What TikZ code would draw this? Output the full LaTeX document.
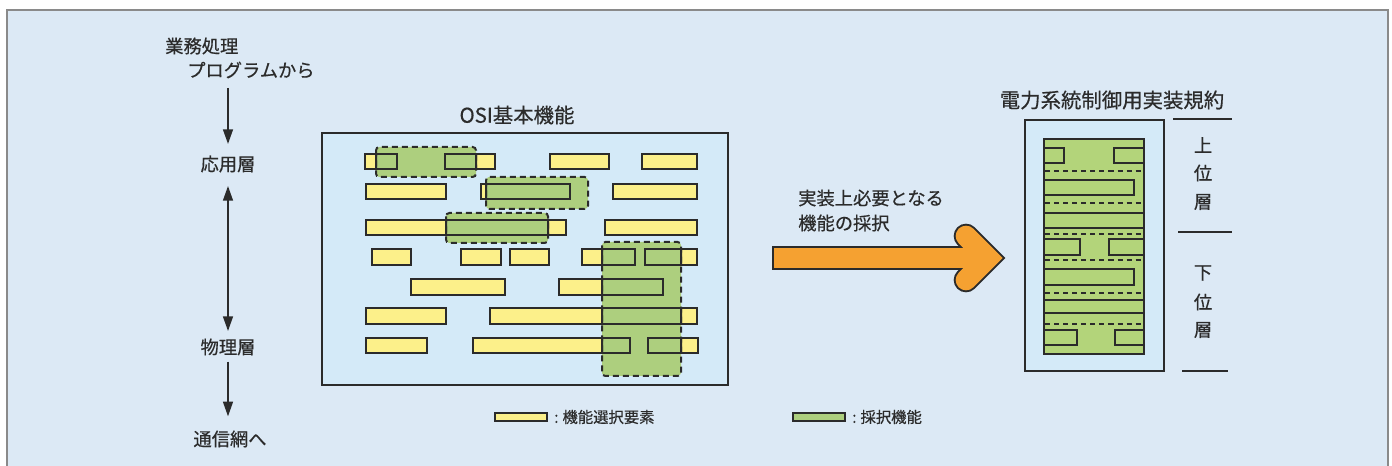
\documentclass[tikz,border=0pt]{standalone}
\usepackage{fontspec}
\newfontfamily\jp[FakeBold=0.5]{Noto Sans CJK JP}
\usetikzlibrary{arrows.meta}
\definecolor{bgblue}{HTML}{DCE9F5}
\definecolor{boxblue}{HTML}{D4EAF8}
\definecolor{yel}{HTML}{FCF08A}
\definecolor{grn}{HTML}{ADCF7E}
\definecolor{grnr}{HTML}{B3D47A}
\definecolor{org}{HTML}{F5A131}
\definecolor{ink}{HTML}{2B2B2B}
\definecolor{framegray}{HTML}{8A8A8A}
\tikzset{
  txt/.style={inner sep=0pt, text=ink, font=\jp\fontsize{13.7}{15}\selectfont},
  ttl/.style={inner sep=0pt, text=ink, font=\jp\fontsize{15.3}{17}\selectfont},
  lgd/.style={inner sep=0pt, text=ink, font=\jp\fontsize{11.5}{14}\selectfont},
  arr/.style={draw=ink, line width=1.1pt, -{Triangle[length=11pt,width=7.5pt]}},
  dblarr/.style={draw=ink, line width=1.1pt, {Triangle[length=11pt,width=7.5pt]}-{Triangle[length=11pt,width=7.5pt]}},
  rline/.style={draw=ink, line width=1.5pt},
  gfill/.style={fill=grn, rounded corners=2.5pt},
  gdash/.style={draw=ink, line width=1.5pt, dash pattern=on 4.5pt off 3pt, rounded corners=2.5pt},
  rdash/.style={draw=ink, line width=1.1pt, dash pattern=on 3.8pt off 3pt},
  outbox/.style={draw=ink, line width=1.5pt, fill=boxblue},
  sideline/.style={draw=ink, line width=1.2pt},
}
\begin{document}
\begin{tikzpicture}[x=0.75pt,y=-0.75pt]
\useasboundingbox (0,0) rectangle (1392,466);
\fill[white] (0,0) rectangle (1392,466);
\draw[framegray, line width=1.3pt, fill=bgblue] (7,480) -- (7,10) -- (1388,10) -- (1388,480);

% ---------- left column ----------
\node[txt, anchor=west] (prog1) at (165,46) {業務処理};
\node[txt, anchor=west] (prog2) at (187,70) {プログラムから};
\node[txt] (ouyou) at (228,164) {応用層};
\node[txt] (butsuri) at (228,347) {物理層};
\node[txt] (tsushin) at (230,439) {通信網へ};
\draw[arr] ([yshift=-7pt]prog2.south -| ouyou.north) -- ([yshift=8.5pt]ouyou.north);
\draw[dblarr] ([yshift=-10pt]ouyou.south) -- ([yshift=5.5pt]butsuri.north);
\draw[arr] ([yshift=-4.5pt]butsuri.south) -- ([yshift=10.5pt]tsushin.north -| butsuri.south);

% ---------- OSI box ----------
\node[ttl] (osititle) at (517,115) {OSI基本機能};
\draw[outbox] (322,133) rectangle (728,385);

\def\rects{365/154/397/169, 445/154/495/169, 550/154/609/169, 642/154/697/169,
  366/184/446/199, 481/184/570/199, 613/184/697/199,
  366/220/566/235, 605/220/697/235,
  372/249/411/265, 461/249/501/265, 510/249/549/265, 582/249/635/265, 645/249/697/265,
  411/279/505/295, 559/279/663/295,
  366/308/446/324, 490/308/697/324,
  366/338/427/353, 473/338/630/353, 648/338/698/353}
\def\gregs{376/147/476/177, 486/177/588/209, 446/213/548/243, 602/242/681/376}

\foreach \a/\b/\c/\d in \rects { \fill[yel] (\a,\b) rectangle (\c,\d); }
\foreach \a/\b/\c/\d in \gregs { \fill[gfill] (\a,\b) rectangle (\c,\d); }
\begin{scope}
  \clip \foreach \a/\b/\c/\d in \rects { (\a,\b) rectangle (\c,\d) };
  \foreach \a/\b/\c/\d in \gregs { \draw[rline, rounded corners=2.5pt] (\a,\b) rectangle (\c,\d); }
\end{scope}
\foreach \a/\b/\c/\d in \rects { \draw[rline] (\a,\b) rectangle (\c,\d); }
\foreach \a/\b/\c/\d in \gregs { \draw[gdash] (\a,\b) rectangle (\c,\d); }

% ---------- orange arrow ----------
\node[txt, anchor=west] (adopt1) at (798,198) {実装上必要となる};
\node[txt, anchor=west] (adopt2) at (798,223) {機能の採択};
\coordinate (ashaft) at (772,258);
\coordinate (ajoin) at (988,258);
\coordinate (atop) at (966,236);
\coordinate (abot) at (966,280);
\draw[ink, line width=18.5pt] (ashaft) -- (ajoin);
\draw[ink, line width=18.5pt, line cap=round, line join=miter] (atop) -- (ajoin) -- (abot);
\draw[org, line width=15.5pt] ([xshift=1.5pt]ashaft) -- (ajoin);
\draw[org, line width=15.5pt, line cap=round, line join=miter] (atop) -- (ajoin) -- (abot);

% ---------- right panel ----------
\node[ttl] (rtitle) at (1112,100) {電力系統制御用実装規約};
\draw[outbox] (1025,120) rectangle (1164,371);
\draw[rline, fill=grnr] (1044,139) rectangle (1144,354);
\foreach \a/\b/\c/\d in {1044/148/1064/163, 1114/148/1144/163, 1044/180/1134/195,
  1044/213/1144/228, 1044/239/1080/255, 1109/239/1144/255, 1044/269/1134/285,
  1044/300/1144/313, 1044/330/1077/345, 1115/330/1144/345}
  { \draw[rline] (\a,\b) rectangle (\c,\d); }
\foreach \yy in {171,203,234,260,293,324} { \draw[rdash] (1045,\yy) -- (1143,\yy); }

\draw[sideline] (1173,119) -- (1232,119);
\draw[sideline] (1178,232) -- (1232,232);
\draw[sideline] (1182,371) -- (1228,371);
\node[txt] (u1) at (1203,145) {上};
\node[txt] (u2) at (1203,173) {位};
\node[txt] (u3) at (1203,202) {層};
\node[txt] (l1) at (1203,273) {下};
\node[txt] (l2) at (1203,302) {位};
\node[txt] (l3) at (1203,330) {層};

% ---------- legend ----------
\draw[draw=ink, line width=1pt, fill=yel] (495,413) rectangle (547,421);
\node[lgd, anchor=west] (leg1) at (554,417) {:\kern3pt 機能選択要素};
\draw[draw=ink, line width=1pt, fill=grn] (793,413) rectangle (845,421);
\node[lgd, anchor=west] (leg2) at (852,417) {:\kern3pt 採択機能};
\end{tikzpicture}
\end{document}
